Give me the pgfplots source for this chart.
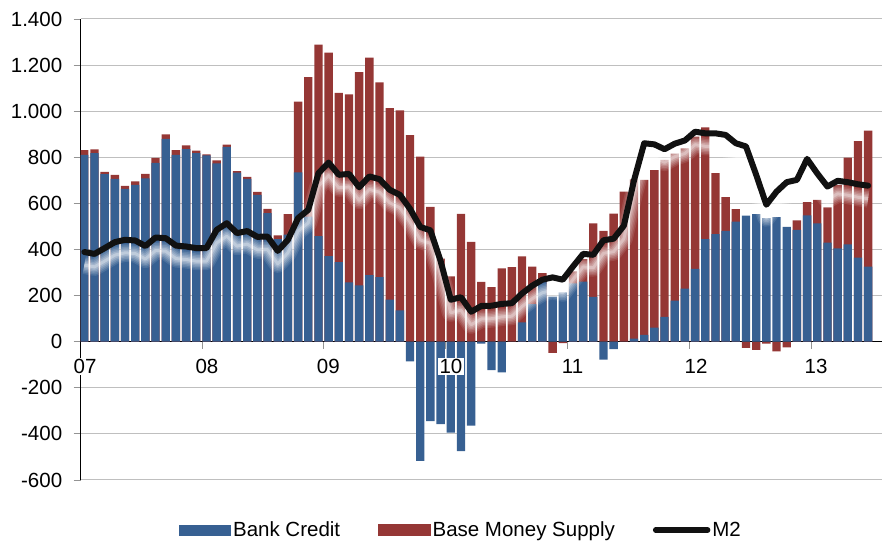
\documentclass[border=0pt]{standalone}
\usepackage{pgfplots}
\pgfplotsset{compat=1.18}
\usepackage{pgfplotstable}
\usepackage{fontspec}
\setmainfont{Liberation Sans}
\definecolor{bc}{RGB}{55,96,146}
\definecolor{bm}{RGB}{149,55,53}
\definecolor{mline}{RGB}{17,17,17}

\pgfplotstableread{
i b r m
0 810 21 389
1 818 16 381
2 727 10 406
3 706 18 432
4 663 13 442
5 680 15 439
6 709 19 415
7 776 21 452
8 880 19 449
9 810 21 417
10 835 17 413
11 818 11 406
12 808 5 406
13 774 13 485
14 845 10 514
15 734 6 471
16 706 9 480
17 637 13 455
18 558 18 456
19 445 16 394
20 465 88 442
21 735 306 536
22 543 605 572
23 458 831 731
24 371 883 777
25 345 734 724
26 257 816 728
27 244 926 670
28 289 943 717
29 280 845 705
30 182 831 659
31 136 868 637
32 -85 896 576
33 -517 803 498
34 -345 585 483
35 -358 360 350
36 -394 283 182
37 -475 555 193
38 -364 433 130
39 -8 260 155
40 -123 237 156
41 -133 318 164
42 0 324 167
43 84 286 209
44 163 163 243
45 262 36 269
46 196 -49 279
47 214 -6 269
48 253 52 326
49 261 97 381
50 194 319 377
51 -78 481 440
52 -32 556 447
53 0 651 503
54 13 691 700
55 30 672 861
56 61 683 856
57 108 681 835
58 178 638 859
59 230 609 873
60 316 574 911
61 445 485 904
62 467 264 904
63 481 146 897
64 521 54 861
65 547 -27 847
66 553 -35 724
67 536 -8 594
68 540 -42 651
69 498 -25 692
70 485 41 702
71 548 57 793
72 513 102 730
73 430 153 673
74 405 275 698
75 422 377 692
76 365 505 683
77 326 590 677
}\data

\begin{document}
\begin{tikzpicture}
\begin{axis}[name=ax, scale only axis, width=801.3pt, height=461pt,
  xmin=-0.354, xmax=78.36, ymin=-600, ymax=1400,
  axis x line=middle, axis y line=left,
  axis line style={-, black, line width=1.2pt},
  hide obscured x ticks=false, hide obscured y ticks=false,
  tick align=outside, major tick length=7pt,
  tick style={gray!85, line width=0.9pt},
  ytick={-600,-400,-200,0,200,400,600,800,1000,1200,1400},
  yticklabels={-600,-400,-200,0,200,400,600,800,1.000,1.200,1.400},
  xtick={-0.354,11.59,23.48,35.43,47.49,59.43,71.39},
  xticklabels={},
  ymajorgrids, grid style={gray!50, line width=1pt},
  yticklabel style={font=\fontsize{20.5}{24}\selectfont, anchor=east, xshift=-8pt},
  legend style={at={(0.4746,-0.1085)}, anchor=center, draw=none, fill=none,
    legend columns=3, font=\fontsize{20.5}{24}\selectfont,
    /tikz/every even column/.append style={column sep=36pt}},
  legend cell align=left,
]
% red (base money) bars: drawn from 0 to the stacked top, blue drawn over them
\addplot[ybar, bar width=0.82, bar shift=0pt, fill=bm, draw=none, forget plot]
  table[x=i, y expr={\thisrow{r}>=0 ? max(\thisrow{b},0)+\thisrow{r} : min(\thisrow{b},0)+\thisrow{r}}]{\data};
\addplot[ybar, bar width=0.82, bar shift=0pt, fill=bc, draw=none,
  legend image code/.code={\fill[bc] (0pt,-5.5pt) rectangle (52pt,5.5pt);}]
  table[x=i, y=b]{\data};
\addlegendentry{Bank Credit}
\addlegendimage{legend image code/.code={\fill[bm] (0pt,-5.5pt) rectangle (52pt,5.5pt);}}
\addlegendentry{Base Money Supply}
% soft glow under the M2 line
\addplot[white, opacity=0.10, line width=18pt, yshift=-13pt, line join=round, forget plot] table[x=i, y=m]{\data};
\addplot[white, opacity=0.12, line width=15pt, yshift=-13pt, line join=round, forget plot] table[x=i, y=m]{\data};
\addplot[white, opacity=0.14, line width=12pt, yshift=-13pt, line join=round, forget plot] table[x=i, y=m]{\data};
\addplot[white, opacity=0.16, line width=9pt, yshift=-13pt, line join=round, forget plot] table[x=i, y=m]{\data};
\addplot[white, opacity=0.20, line width=6pt, yshift=-13pt, line join=round, forget plot] table[x=i, y=m]{\data};
\addplot[white, opacity=0.30, line width=3pt, yshift=-13pt, line join=round, forget plot] table[x=i, y=m]{\data};
\addplot[mline, line width=6pt, line join=round, line cap=round,
  legend image code/.code={\draw[mline, line width=5.5pt, line cap=round] (0pt,0pt) -- (52pt,0pt);}]
  table[x=i, y=m]{\data};
\addlegendentry{M2}
% anchor points for the year labels
\coordinate (y07) at (axis cs:0.07,0);
\coordinate (y08) at (axis cs:12.05,0);
\coordinate (y09) at (axis cs:23.97,0);
\coordinate (y10) at (axis cs:36.02,0);
\coordinate (y11) at (axis cs:47.96,0);
\coordinate (y12) at (axis cs:60.09,0);
\coordinate (y13) at (axis cs:71.88,0);
\end{axis}
% year labels, drawn above the bars and the axis line, on white
\foreach \lab in {07,08,09,10,11,12,13}{
  \node[font=\fontsize{20.5}{24}\selectfont, fill=white, inner sep=1.5pt, anchor=center]
    at ([yshift=-25pt]y\lab) {\lab};
}
\pgfresetboundingbox
\path ([xshift=-80.7pt,yshift=-62pt]ax.south west) rectangle ([yshift=19pt]ax.north east);
\end{tikzpicture}
\end{document}
